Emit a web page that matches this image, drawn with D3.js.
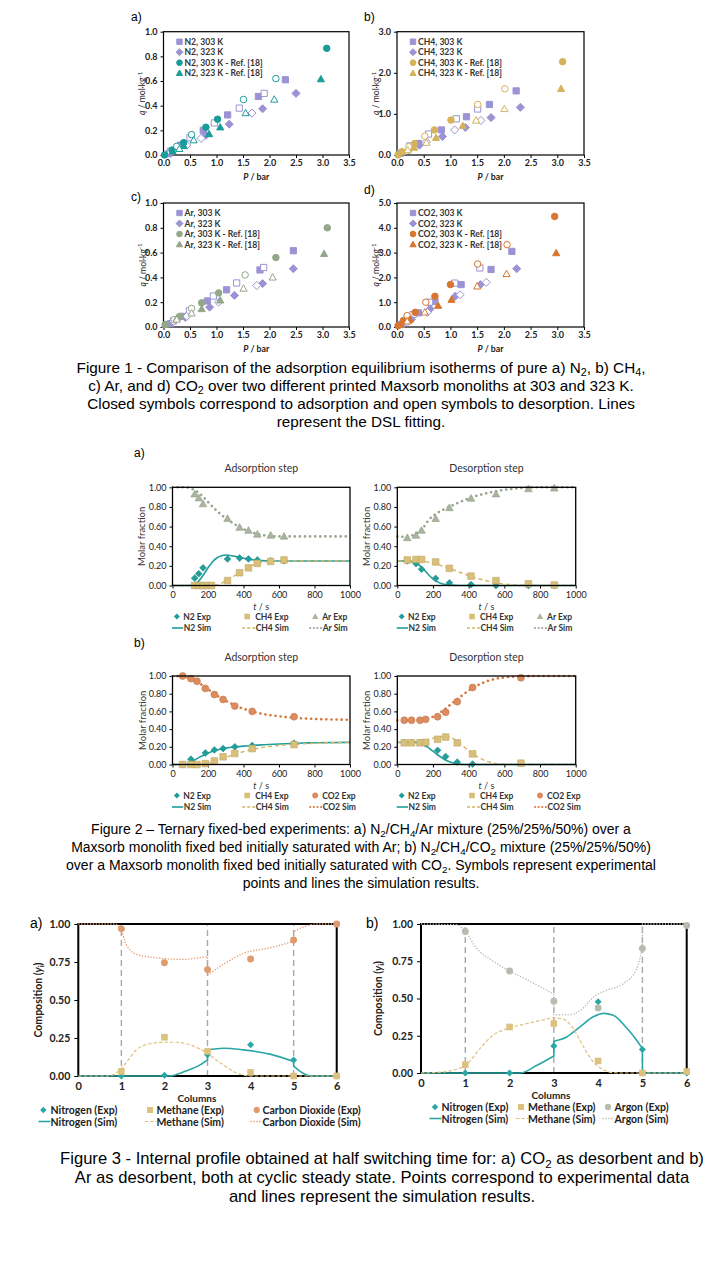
<!DOCTYPE html>
<html>
<head>
<meta charset="utf-8">
<title>Adsorption figures</title>
<script src="https://d3js.org/d3.v7.min.js"></script>
<style>
  body { margin: 0; background: #fff; }
  svg { display: block; }
</style>
</head>
<body>
<svg id="page" width="720" height="1280"></svg>
<script>
// ---------- Figure 1 data: [P (bar), q (mol/kg)] ----------
const P_TICKS = [0, 0.5, 1, 1.5, 2, 2.5, 3, 3.5];
const Q_TICKS_1 = [0, 0.2, 0.4, 0.6, 0.8, 1.0];
const Q_TICKS_3 = [0, 1, 2, 3];
const Q_TICKS_5 = [0, 1, 2, 3, 4, 5];

const N2_303_ads = [[0.1,0.01],[0.32,0.08],[0.75,0.2],[1.21,0.325],[1.79,0.475],[2.3,0.61]];
const N2_303_des = [[0.13,0.03],[0.28,0.06],[0.5,0.14],[0.96,0.26],[1.43,0.38],[1.9,0.5]];
const N2_323_ads = [[0.4,0.08],[0.8,0.16],[1.24,0.25],[1.87,0.375],[2.5,0.5]];
const N2_323_des = [[0.2,0.04],[0.44,0.08],[0.71,0.135],[1.67,0.34]];
const N2_r303_ads = [[0.02,0.0],[0.16,0.04],[0.38,0.1],[0.8,0.225],[1.02,0.29],[3.08,0.865]];
const N2_r303_des = [[0.25,0.07],[0.53,0.165],[1.51,0.45],[2.12,0.62]];
const N2_r323_ads = [[0.17,0.03],[0.38,0.075],[0.86,0.17],[1.07,0.225],[2.97,0.615]];
const N2_r323_des = [[0.3,0.05],[0.57,0.12],[1.55,0.34],[2.09,0.45]];

const CH4_303_ads = [[0.06,0.04],[0.4,0.28],[0.83,0.61],[1.3,0.93],[1.73,1.23],[2.23,1.56]];
const CH4_303_des = [[0.24,0.22],[0.59,0.51],[1.11,0.88],[1.51,1.12]];
const CH4_323_ads = [[0.42,0.24],[0.85,0.45],[1.28,0.67],[1.76,0.91],[2.31,1.16]];
const CH4_323_des = [[0.22,0.12],[0.55,0.32],[1.08,0.61],[1.57,0.84]];
const CH4_r303_ads = [[0.02,0.0],[0.09,0.08],[0.33,0.28],[0.7,0.61],[1.01,0.85],[3.1,2.27]];
const CH4_r303_des = [[0.22,0.2],[0.52,0.46],[1.51,1.23],[2.02,1.61]];
const CH4_r323_ads = [[0.1,0.08],[0.32,0.18],[0.73,0.42],[1.23,0.71],[3.07,1.61]];
const CH4_r323_des = [[0.2,0.12],[0.55,0.3],[1.48,0.84],[2.01,1.12]];

const Ar_303_ads = [[0.13,0.027],[0.38,0.086],[0.83,0.21],[1.19,0.3],[1.82,0.46],[2.45,0.615]];
const Ar_303_des = [[0.19,0.05],[0.49,0.13],[0.94,0.25],[1.38,0.355],[1.89,0.48]];
const Ar_323_ads = [[0.41,0.078],[0.87,0.16],[1.34,0.255],[1.87,0.35],[2.45,0.47]];
const Ar_323_des = [[0.19,0.046],[0.44,0.086],[1.04,0.2],[1.76,0.335]];
const Ar_r303_ads = [[0.03,0.02],[0.31,0.086],[0.72,0.195],[1.04,0.275],[2.12,0.56],[3.09,0.8]];
const Ar_r303_des = [[0.2,0.06],[0.53,0.15],[1.54,0.42]];
const Ar_r323_ads = [[0.03,0.02],[0.25,0.07],[0.72,0.145],[1.07,0.215],[3.03,0.59]];
const Ar_r323_des = [[0.25,0.06],[0.53,0.11],[1.51,0.31],[2.06,0.4]];

const CO2_303_ads = [[0.08,0.1],[0.4,0.57],[0.71,1.03],[1.2,1.71],[1.76,2.32],[2.15,3.05]];
const CO2_303_des = [[0.3,0.5],[0.61,1.0],[1.08,1.77],[1.55,2.38]];
const CO2_323_ads = [[0.27,0.3],[0.62,0.73],[1.09,1.24],[1.56,1.71],[2.24,2.35]];
const CO2_323_des = [[0.19,0.19],[0.57,0.59],[1.18,1.3],[1.67,1.8]];
const CO2_r303_ads = [[0.02,0.05],[0.12,0.26],[0.34,0.59],[0.71,1.24],[1.0,1.71],[2.95,4.46]];
const CO2_r303_des = [[0.19,0.46],[0.54,1.0],[1.51,2.54],[2.06,3.32]];
const CO2_r323_ads = [[0.07,0.1],[0.24,0.3],[0.77,0.86],[1.02,1.1],[2.98,2.98]];
const CO2_r323_des = [[0.19,0.23],[0.52,0.59],[1.5,1.64],[2.05,2.14]];

// ---------- Figure 2 data: [t (s), molar fraction] ----------
const T_TICKS = [0, 200, 400, 600, 800, 1000];
const FRAC_TICKS = [0, 0.2, 0.4, 0.6, 0.8, 1.0];

const a_ads_N2_exp = [[125,0.075],[148,0.12],[172,0.18],[310,0.27],[378,0.28],[428,0.27],[478,0.26],[553,0.25],[628,0.25]];
const a_ads_CH4_exp = [[125,0],[148,0],[172,0],[195,0],[220,0],[310,0.05],[378,0.13],[428,0.18],[478,0.225],[553,0.245],[628,0.26]];
const a_ads_Ar_exp = [[125,0.93],[148,0.89],[172,0.83],[310,0.68],[378,0.59],[428,0.56],[478,0.52],[553,0.51],[628,0.5]];
const a_ads_N2_sim = [[0,0],[100,0],[125,0.01],[150,0.05],[175,0.11],[200,0.18],[225,0.24],[250,0.28],[275,0.303],[300,0.31],[325,0.306],[350,0.297],[400,0.278],[450,0.262],[500,0.253],[550,0.25],[1000,0.25]];
const a_ads_CH4_sim = [[0,0],[220,0],[250,0.006],[300,0.045],[350,0.1],[400,0.16],[450,0.205],[500,0.235],[550,0.247],[600,0.25],[1000,0.25]];
const a_ads_Ar_sim = [[0,1],[75,1],[100,0.99],[125,0.97],[150,0.94],[175,0.9],[200,0.85],[250,0.76],[300,0.685],[350,0.625],[400,0.575],[450,0.54],[500,0.515],[550,0.505],[600,0.5],[1000,0.5]];

const a_des_N2_exp = [[56,0.25],[105,0.223],[136,0.165],[215,0.072],[292,0.027],[413,0.01],[553,0],[735,0],[880,0]];
const a_des_CH4_exp = [[56,0.26],[105,0.265],[136,0.265],[215,0.24],[292,0.175],[413,0.096],[553,0.05],[735,0.017],[880,0.005]];
const a_des_Ar_exp = [[56,0.485],[105,0.51],[136,0.56],[215,0.68],[292,0.79],[413,0.887],[553,0.93],[735,0.983],[880,0.99]];
const a_des_N2_sim = [[0,0.25],[50,0.25],[75,0.245],[100,0.232],[125,0.205],[150,0.16],[175,0.11],[200,0.068],[225,0.037],[250,0.018],[300,0.004],[350,0],[1000,0]];
const a_des_CH4_sim = [[0,0.25],[100,0.25],[150,0.245],[200,0.228],[250,0.2],[300,0.17],[350,0.135],[400,0.102],[450,0.072],[500,0.048],[550,0.028],[600,0.015],[700,0.003],[800,0],[1000,0]];
const a_des_Ar_sim = [[0,0.5],[50,0.495],[100,0.525],[150,0.6],[175,0.665],[230,0.745],[290,0.8],[345,0.845],[420,0.9],[490,0.935],[585,0.97],[680,0.99],[770,1],[1000,1]];

const b_ads_N2_exp = [[57,0],[104,0.06],[185,0.13],[236,0.165],[285,0.18],[351,0.2],[449,0.215],[685,0.24]];
const b_ads_CH4_exp = [[57,0],[104,0],[138,0],[185,0.01],[236,0.04],[285,0.087],[351,0.125],[449,0.18],[685,0.225]];
const b_ads_CO2_exp = [[57,1.0],[104,0.97],[138,0.94],[185,0.86],[236,0.79],[285,0.735],[351,0.66],[449,0.6],[685,0.54]];
const b_ads_N2_sim = [[0,0],[75,0],[100,0.02],[125,0.05],[150,0.08],[175,0.105],[200,0.13],[250,0.165],[300,0.185],[350,0.198],[400,0.208],[500,0.222],[600,0.232],[700,0.24],[800,0.245],[1000,0.25]];
const b_ads_CH4_sim = [[0,0],[150,0],[175,0.005],[200,0.015],[250,0.045],[300,0.08],[350,0.115],[400,0.145],[450,0.17],[500,0.19],[600,0.215],[700,0.23],[800,0.24],[1000,0.25]];
const b_ads_CO2_sim = [[0,1],[50,0.995],[100,0.97],[150,0.92],[200,0.85],[250,0.78],[300,0.72],[350,0.67],[400,0.63],[450,0.6],[500,0.575],[600,0.545],[700,0.525],[800,0.515],[1000,0.505]];

const b_des_N2_exp = [[39,0.25],[80,0.25],[127,0.25],[159,0.235],[226,0.16],[271,0.09],[336,0.027],[422,0.005]];
const b_des_CH4_exp = [[39,0.245],[80,0.245],[127,0.245],[159,0.25],[226,0.285],[271,0.31],[336,0.245],[422,0.12],[693,0.015]];
const b_des_CO2_exp = [[39,0.5],[80,0.5],[127,0.5],[159,0.51],[226,0.54],[271,0.59],[336,0.71],[422,0.87],[693,0.98]];
const b_des_N2_sim = [[0,0.25],[100,0.25],[125,0.24],[150,0.22],[175,0.19],[200,0.15],[225,0.11],[250,0.075],[275,0.045],[300,0.025],[325,0.01],[350,0.003],[400,0],[1000,0]];
const b_des_CH4_sim = [[0,0.25],[100,0.255],[150,0.27],[200,0.298],[250,0.318],[275,0.32],[300,0.305],[350,0.24],[400,0.155],[450,0.085],[500,0.038],[550,0.013],[600,0.003],[700,0],[1000,0]];
const b_des_CO2_sim = [[0,0.5],[100,0.5],[150,0.51],[200,0.54],[250,0.6],[300,0.68],[350,0.76],[400,0.835],[450,0.895],[500,0.94],[550,0.968],[600,0.984],[700,0.996],[800,1],[1000,1]];

// ---------- Figure 3 data: [column, composition] ----------
const COL_TICKS = [0, 1, 2, 3, 4, 5, 6];
const COMP_TICKS = [0, 0.25, 0.5, 0.75, 1];
const COLUMNS = [1, 2, 3, 4, 5, 6];

const f3a_N2_exp = [0, 0.005, 0.14, 0.205, 0.105, 0];
const f3a_CH4_exp = [0.03, 0.255, 0.162, 0.024, 0, 0];
const f3a_CO2_exp = [0.968, 0.745, 0.7, 0.77, 0.895, 1.0];
// a repeated column value marks a jump between two columns
const f3a_N2_sim = [[0,0],[2.1,0],[2.5,0.033],[2.83,0.073],[3,0.106],[3,0.172],[3.37,0.183],[3.83,0.172],[4.45,0.144],[5,0.095],[5,0.065],[5.22,0.018],[5.38,0],[6,0]];
const f3a_CH4_sim = [[0,0],[0.7,0],[0.85,0.015],[1.0,0.05],[1.2,0.12],[1.35,0.173],[1.66,0.212],[2.0,0.222],[2.28,0.222],[2.59,0.205],[2.8,0.18],[3.0,0.15],[3.2,0.105],[3.37,0.073],[3.6,0.03],[3.75,0.012],[4.0,0],[6,0]];
const f3a_CO2_sim = [[0,1],[0.85,1],[1.0,0.96],[1.08,0.885],[1.2,0.83],[1.35,0.8],[1.74,0.78],[2.44,0.767],[2.8,0.778],[3,0.785],[3,0.665],[3.37,0.735],[3.83,0.806],[4.45,0.843],[5,0.886],[5,0.95],[5.22,0.98],[5.53,1.0],[6,1]];

const f3b_N2_exp = [0, 0, 0.182, 0.478, 0.157, 0];
const f3b_CH4_exp = [0.056, 0.309, 0.332, 0.081, 0, 0.01];
const f3b_Ar_exp = [0.95, 0.685, 0.482, 0.437, 0.836, 0.99];
const f3b_N2_sim = [[0,0],[2.24,0],[2.61,0.05],[3,0.114],[3,0.213],[3.29,0.242],[3.59,0.31],[3.89,0.377],[4.12,0.4],[4.34,0.388],[4.65,0.3],[4.87,0.22],[5,0.164],[5,0],[6,0]];
const f3b_CH4_sim = [[0,0],[0.5,0.007],[0.8,0.025],[1.0,0.05],[1.33,0.164],[1.63,0.254],[2.0,0.303],[2.39,0.332],[2.84,0.361],[3.0,0.37],[3.22,0.36],[3.44,0.298],[3.67,0.175],[3.89,0.074],[4.12,0.022],[4.34,0.002],[4.5,0],[6,0]];
const f3b_Ar_sim = [[0,1],[0.8,0.995],[1.0,0.95],[1.25,0.84],[1.63,0.75],[2.0,0.685],[2.5,0.61],[3,0.527],[3,0.39],[3.3,0.39],[3.6,0.42],[3.9,0.51],[4.2,0.556],[4.57,0.6],[4.87,0.7],[5,0.836],[5,1.0],[6,1]];

// ---------- colours ----------
const PURPLE = '#9b93d4', TEAL = '#1a9c9a', GOLD = '#d6b35a', SAGE = '#93a78a', ORANGE = '#d8762f';
const F2_N2 = '#1f9f9c', F2_CH4 = '#d9bf78', F2_AR = '#a9b59f', F2_CO2 = '#de8b5e';
const F3_N2 = '#2aa7a5', F3_CH4 = '#ddc27f', F3_CO2 = '#e09a70', F3_AR = '#b6bcae';

const CHART_FONT = 'Lato, "Open Sans", sans-serif';
const CAP_FONT = '"Liberation Sans", Arial, sans-serif';

const svg = d3.select('#page');
svg.append('rect').attr('width', 720).attr('height', 1280).attr('fill', '#fff');

// marker outline centred on 0,0
function shapePath(shape, s) {
  if (shape === 'square') return `M${-s},${-s}H${s}V${s}H${-s}Z`;
  if (shape === 'diamond') { const d = s * 1.3; return `M0,${-d}L${d},0L0,${d}L${-d},0Z`; }
  if (shape === 'triangle') return `M0,${-s * 1.2}L${s * 1.15},${s * 0.85}L${-s * 1.15},${s * 0.85}Z`;
  return d3.symbol(d3.symbolCircle, Math.PI * s * s * 1.1)();
}

function drawMarkers(g, pts, x, y, shape, s, fill, stroke, sw) {
  g.append('g').selectAll('path').data(pts).join('path')
    .attr('transform', d => `translate(${x(d[0])},${y(d[1])})`)
    .attr('d', shapePath(shape, s))
    .attr('fill', fill).attr('stroke', stroke).attr('stroke-width', sw);
}

// text with _{sub}, ^{sup}, *italic*
function rich(t, str, fs) {
  const parts = str.split(/(_\{[^}]*\}|\^\{[^}]*\}|\*[^*]*\*)/).filter(p => p);
  let back = 0;
  parts.forEach(p => {
    const ts = t.append('tspan');
    if (p[0] === '_' && p[1] === '{') {
      ts.attr('dy', fs * 0.3 + back).attr('font-size', fs * 0.7).text(p.slice(2, -1)); back = -fs * 0.3;
    } else if (p[0] === '^' && p[1] === '{') {
      ts.attr('dy', -fs * 0.4 + back).attr('font-size', fs * 0.7).text(p.slice(2, -1)); back = fs * 0.4;
    } else if (p[0] === '*') {
      ts.attr('dy', back).attr('font-style', 'italic').text(p.slice(1, -1)); back = 0;
    } else {
      ts.attr('dy', back).text(p); back = 0;
    }
  });
  return t;
}

function label(g, x, y, str, o) {
  o = o || {};
  const t = g.append('text').attr('x', x).attr('y', y)
    .attr('font-family', o.family || CHART_FONT)
    .attr('font-size', o.size || 10)
    .attr('font-weight', o.weight || 'normal')
    .attr('fill', o.fill || '#000')
    .attr('text-anchor', o.anchor || 'start')
    .attr('dominant-baseline', 'central');
  if (o.rotate) t.attr('transform', `rotate(-90,${x},${y})`);
  return rich(t, str, o.size || 10);
}

function styleAxis(a, size, weight, fill) {
  a.select('.domain').remove();
  a.selectAll('line').attr('stroke', '#000');
  a.selectAll('text').attr('font-family', CHART_FONT).attr('font-size', size)
    .attr('font-weight', weight).attr('fill', fill);
}

// ---------- Figure 1 panels ----------
function isoPanel(p) {
  const x = d3.scaleLinear().domain([0, 3.5]).range([p.left, p.right]);
  const y = d3.scaleLinear().domain([0, p.yticks[p.yticks.length - 1]]).range([p.bottom, p.top]);
  const g = svg.append('g');
  styleAxis(g.append('g').attr('transform', `translate(0,${p.bottom})`)
    .call(d3.axisBottom(x).tickValues(P_TICKS).tickFormat(d3.format('.1f')).tickSize(3).tickPadding(2)), 9, 'bold', '#222');
  styleAxis(g.append('g').attr('transform', `translate(${p.left},0)`)
    .call(d3.axisLeft(y).tickValues(p.yticks).tickFormat(d3.format('.1f')).tickSize(3).tickPadding(3)), 9, 'bold', '#222');
  g.append('rect').attr('x', p.left).attr('y', p.top).attr('width', p.right - p.left)
    .attr('height', p.bottom - p.top).attr('fill', 'none').attr('stroke', '#000').attr('stroke-width', 1.2);

  p.series.forEach(s => drawMarkers(g, s.pts, x, y, s.shape, 3.1,
    s.open ? '#fff' : s.color, s.color, 1));

  p.legend.forEach((l, i) => {
    const ly = p.top + 10 + i * 10.5;
    g.append('path').attr('transform', `translate(${p.left + 16},${ly})`)
      .attr('d', shapePath(l.shape, 2.7)).attr('fill', l.color).attr('stroke', l.color);
    label(g, p.left + 21, ly, l.text, { size: 8.6, weight: 'bold', fill: '#333' });
  });

  label(g, p.tagX, p.tagY, p.tag, { family: CAP_FONT, size: 12 });
  label(g, (p.left + p.right) / 2, p.bottom + 21, '*P* / bar', { size: 8.8, weight: 'bold', anchor: 'middle', fill: '#222' });
  label(g, p.left - 21, (p.top + p.bottom) / 2, '*q* / mol·kg^{-1}', { size: 8.6, anchor: 'middle', rotate: true, fill: '#222' });
}

function isoSeries(gas, color, d) {
  return {
    series: [
      { pts: d[0], shape: 'square', color: PURPLE }, { pts: d[1], shape: 'square', color: PURPLE, open: true },
      { pts: d[2], shape: 'diamond', color: PURPLE }, { pts: d[3], shape: 'diamond', color: PURPLE, open: true },
      { pts: d[4], shape: 'circle', color: color }, { pts: d[5], shape: 'circle', color: color, open: true },
      { pts: d[6], shape: 'triangle', color: color }, { pts: d[7], shape: 'triangle', color: color, open: true }
    ],
    legend: [
      { shape: 'square', color: PURPLE, text: gas + ', 303 K' },
      { shape: 'diamond', color: PURPLE, text: gas + ', 323 K' },
      { shape: 'circle', color: color, text: gas + ', 303 K - Ref. [18]' },
      { shape: 'triangle', color: color, text: gas + ', 323 K - Ref. [18]' }
    ]
  };
}

isoPanel(Object.assign({ left: 163.5, right: 349, top: 31.7, bottom: 155, yticks: Q_TICKS_1, tag: 'a)', tagX: 131, tagY: 17 },
  isoSeries('N2', TEAL, [N2_303_ads, N2_303_des, N2_323_ads, N2_323_des, N2_r303_ads, N2_r303_des, N2_r323_ads, N2_r323_des])));
isoPanel(Object.assign({ left: 397, right: 584, top: 31.7, bottom: 155, yticks: Q_TICKS_3, tag: 'b)', tagX: 364, tagY: 17 },
  isoSeries('CH4', GOLD, [CH4_303_ads, CH4_303_des, CH4_323_ads, CH4_323_des, CH4_r303_ads, CH4_r303_des, CH4_r323_ads, CH4_r323_des])));
isoPanel(Object.assign({ left: 163.5, right: 349, top: 203, bottom: 327, yticks: Q_TICKS_1, tag: 'c)', tagX: 131, tagY: 197 },
  isoSeries('Ar', SAGE, [Ar_303_ads, Ar_303_des, Ar_323_ads, Ar_323_des, Ar_r303_ads, Ar_r303_des, Ar_r323_ads, Ar_r323_des])));
isoPanel(Object.assign({ left: 397, right: 584, top: 203, bottom: 327, yticks: Q_TICKS_5, tag: 'd)', tagX: 364, tagY: 190 },
  isoSeries('CO2', ORANGE, [CO2_303_ads, CO2_303_des, CO2_323_ads, CO2_323_des, CO2_r303_ads, CO2_r303_des, CO2_r323_ads, CO2_r323_des])));

function caption(lines, cx, y0, dy, size) {
  const g = svg.append('g');
  lines.forEach((l, i) => label(g, cx, y0 + i * dy, l, { family: CAP_FONT, size: size, anchor: 'middle' }));
}

caption([
  'Figure 1 - Comparison of the adsorption equilibrium isotherms of pure a) N_{2}, b) CH_{4},',
  'c) Ar, and d) CO_{2} over two different printed Maxsorb monoliths at 303 and 323 K.',
  'Closed symbols correspond to adsorption and open symbols to desorption. Lines',
  'represent the DSL fitting.'
], 361, 367, 18, 15.3);

// ---------- Figure 2 panels ----------
const SIM_STYLE = {
  solid: { width: 1.6, dash: null, cap: 'butt' },
  dashed: { width: 1.4, dash: '4,3', cap: 'butt' },
  dotted: { width: 2.6, dash: '0.1,5', cap: 'round' }
};

function fbPanel(p) {
  const x = d3.scaleLinear().domain([0, 1000]).range([p.left, p.right]);
  const y = d3.scaleLinear().domain([0, 1]).range([p.bottom, p.top]);
  const g = svg.append('g');
  styleAxis(g.append('g').attr('transform', `translate(0,${p.bottom})`)
    .call(d3.axisBottom(x).tickValues(T_TICKS).tickFormat(d3.format('d')).tickSize(3).tickPadding(3)), 9, 'normal', '#222');
  styleAxis(g.append('g').attr('transform', `translate(${p.left},0)`)
    .call(d3.axisLeft(y).tickValues(FRAC_TICKS).tickFormat(d3.format('.2f')).tickSize(3).tickPadding(3)), 9, 'normal', '#222');

  const line = d3.line().x(d => x(d[0])).y(d => y(d[1])).curve(d3.curveMonotoneX);
  p.sims.forEach(s => {
    const st = SIM_STYLE[s.style];
    g.append('path').attr('d', line(s.pts)).attr('fill', 'none').attr('stroke', s.color)
      .attr('stroke-width', st.width).attr('stroke-dasharray', st.dash).attr('stroke-linecap', st.cap);
  });
  p.exps.forEach(s => drawMarkers(g, s.pts, x, y, s.shape, s.shape === 'diamond' ? 2.6 : 3.3, s.color, d3.color(s.color).darker(0.4), 0.6));

  g.append('rect').attr('x', p.left).attr('y', p.top).attr('width', p.right - p.left)
    .attr('height', p.bottom - p.top).attr('fill', 'none').attr('stroke', '#000').attr('stroke-width', 1.3);

  label(g, (p.left + p.right) / 2, p.top - 19, p.title, { size: 10.5, anchor: 'middle', fill: '#333' });
  label(g, p.left - 31, (p.top + p.bottom) / 2, 'Molar fraction', { size: 9.5, anchor: 'middle', rotate: true, fill: '#333' });
  label(g, (p.left + p.right) / 2, p.bottom + 20, '*t* / s', { size: 9, anchor: 'middle', fill: '#333' });

  // legend below the panel
  const r1 = p.bottom + 31, r2 = p.bottom + 42.5;
  const mx = [4.4, 74.7, 142.7], tx = [10.7, 82.7, 149.7];
  p.exps.forEach((s, i) => {
    g.append('path').attr('transform', `translate(${p.left + mx[i]},${r1})`)
      .attr('d', shapePath(s.shape, s.shape === 'diamond' ? 2.3 : 2.8)).attr('fill', s.color);
    label(g, p.left + tx[i], r1, s.name + ' Exp', { size: 8.5, weight: 'bold', fill: '#333' });
  });
  p.sims.forEach((s, i) => {
    const st = SIM_STYLE[s.style];
    g.append('line').attr('x1', p.left + mx[i] - 5).attr('x2', p.left + tx[i]).attr('y1', r2).attr('y2', r2)
      .attr('stroke', s.color).attr('stroke-width', s.style === 'dotted' ? 2 : st.width)
      .attr('stroke-dasharray', s.style === 'dotted' ? '0.1,3.5' : (s.style === 'dashed' ? '3,2' : null))
      .attr('stroke-linecap', st.cap);
    label(g, p.left + tx[i] + 0.5, r2, s.name + ' Sim', { size: 8.5, weight: 'bold', fill: '#333' });
  });
}

function fbSeries(third, thirdColor, exp, sim) {
  return {
    exps: [
      { name: 'N2', pts: exp[0], shape: 'diamond', color: F2_N2 },
      { name: 'CH4', pts: exp[1], shape: 'square', color: F2_CH4 },
      { name: third, pts: exp[2], shape: third === 'Ar' ? 'triangle' : 'circle', color: thirdColor }
    ],
    sims: [
      { name: 'N2', pts: sim[0], style: 'solid', color: F2_N2 },
      { name: 'CH4', pts: sim[1], style: 'dashed', color: '#d4b565' },
      { name: third, pts: sim[2], style: 'dotted', color: third === 'Ar' ? '#9aa58f' : '#d9773a' }
    ]
  };
}

fbPanel(Object.assign({ left: 172.5, right: 350, top: 487.3, bottom: 585.5, title: 'Adsorption step' },
  fbSeries('Ar', F2_AR, [a_ads_N2_exp, a_ads_CH4_exp, a_ads_Ar_exp], [a_ads_N2_sim, a_ads_CH4_sim, a_ads_Ar_sim])));
fbPanel(Object.assign({ left: 397.3, right: 575.7, top: 487.3, bottom: 585.5, title: 'Desorption step' },
  fbSeries('Ar', F2_AR, [a_des_N2_exp, a_des_CH4_exp, a_des_Ar_exp], [a_des_N2_sim, a_des_CH4_sim, a_des_Ar_sim])));
fbPanel(Object.assign({ left: 172.5, right: 350, top: 676, bottom: 764.5, title: 'Adsorption step' },
  fbSeries('CO2', F2_CO2, [b_ads_N2_exp, b_ads_CH4_exp, b_ads_CO2_exp], [b_ads_N2_sim, b_ads_CH4_sim, b_ads_CO2_sim])));
fbPanel(Object.assign({ left: 397.3, right: 575.7, top: 676, bottom: 764.5, title: 'Desorption step' },
  fbSeries('CO2', F2_CO2, [b_des_N2_exp, b_des_CH4_exp, b_des_CO2_exp], [b_des_N2_sim, b_des_CH4_sim, b_des_CO2_sim])));

label(svg, 134, 453, 'a)', { family: CAP_FONT, size: 12 });
label(svg, 134, 643, 'b)', { family: CAP_FONT, size: 12 });

caption([
  'Figure 2 – Ternary fixed-bed experiments: a) N_{2}/CH_{4}/Ar mixture (25%/25%/50%) over a',
  'Maxsorb monolith fixed bed initially saturated with Ar; b) N_{2}/CH_{4}/CO_{2} mixture (25%/25%/50%)',
  'over a Maxsorb monolith fixed bed initially saturated with CO_{2}. Symbols represent experimental',
  'points and lines the simulation results.'
], 361, 829, 18, 14);

// ---------- Figure 3 panels ----------
const F3_STYLE = {
  solid: { width: 1.6, dash: null },
  dashed: { width: 1.2, dash: '3.5,2' },
  dotted: { width: 1.3, dash: '1.3,1.6' }
};

function colPanel(p) {
  const x = d3.scaleLinear().domain([0, 6]).range([p.left, p.right]);
  const y = d3.scaleLinear().domain([0, 1]).range([p.bottom, p.top]);
  const g = svg.append('g');
  styleAxis(g.append('g').attr('transform', `translate(0,${p.bottom})`)
    .call(d3.axisBottom(x).tickValues(COL_TICKS).tickFormat(d3.format('d')).tickSize(0).tickPadding(6)), 11, 'bold', '#222');
  styleAxis(g.append('g').attr('transform', `translate(${p.left},0)`)
    .call(d3.axisLeft(y).tickValues(COMP_TICKS).tickFormat(d3.format('.2f')).tickSize(4).tickPadding(4)), 10.5, 'bold', '#222');

  g.append('g').selectAll('line').data([1, 3, 5]).join('line')
    .attr('x1', d => x(d)).attr('x2', d => x(d)).attr('y1', p.bottom).attr('y2', p.top)
    .attr('stroke', '#a8a8a8').attr('stroke-width', 1.4).attr('stroke-dasharray', '6,4');

  g.append('rect').attr('x', p.left).attr('y', p.top).attr('width', p.right - p.left)
    .attr('height', p.bottom - p.top).attr('fill', 'none').attr('stroke', '#000').attr('stroke-width', 2);

  // smooth pieces between columns, joined by straight jumps where a column value repeats
  const line = d3.line().x(d => x(d[0])).y(d => y(d[1])).curve(d3.curveMonotoneX);
  const profile = pts => {
    const segs = [[pts[0]]];
    for (let i = 1; i < pts.length; i++) {
      if (pts[i][0] === pts[i - 1][0]) segs.push([pts[i]]);
      else segs[segs.length - 1].push(pts[i]);
    }
    return segs.map((s, i) => {
      const d = s.length > 1 ? line(s) : `M${x(s[0][0])},${y(s[0][1])}`;
      return i ? 'L' + d.slice(1) : d;
    }).join('');
  };
  p.sims.forEach(s => {
    const st = F3_STYLE[s.style];
    g.append('path').attr('d', profile(s.pts)).attr('fill', 'none').attr('stroke', s.color)
      .attr('stroke-width', st.width).attr('stroke-dasharray', st.dash);
  });
  p.exps.forEach(s => drawMarkers(g, d3.zip(COLUMNS, s.vals), x, y, s.shape,
    s.shape === 'diamond' ? 2.7 : 3.3, s.color, 'none', 0));

  label(g, p.tagX, p.top - 1, p.tag, { family: CAP_FONT, size: 14 });
  label(g, p.labelX, (p.top + p.bottom) / 2, 'Composition (*y*_{i})', { size: 10.5, weight: 'bold', anchor: 'middle', rotate: true, fill: '#222' });
  label(g, p.columnsX, p.bottom + 21.5, 'Columns', { size: 10, weight: 'bold', anchor: 'middle', fill: '#222' });

  const r1 = p.bottom + 34, r2 = p.bottom + 45.5;
  p.exps.forEach((s, i) => {
    g.append('path').attr('transform', `translate(${p.legM[i]},${r1})`)
      .attr('d', shapePath(s.shape, s.shape === 'diamond' ? 2.5 : 3)).attr('fill', s.color);
    label(g, p.legT[i], r1, s.name + ' (Exp)', { size: 10.5, weight: 'bold', fill: '#222' });
  });
  p.sims.forEach((s, i) => {
    const st = F3_STYLE[s.style];
    g.append('line').attr('x1', p.legT[i] - 12).attr('x2', p.legT[i]).attr('y1', r2).attr('y2', r2)
      .attr('stroke', s.color).attr('stroke-width', st.width).attr('stroke-dasharray', st.dash);
    label(g, p.legT[i], r2, s.name + ' (Sim)', { size: 10.5, weight: 'bold', fill: '#222' });
  });
}

colPanel({
  left: 78.3, right: 336.7, top: 924, bottom: 1076, tag: 'a)', tagX: 30, labelX: 38, columnsX: 197,
  legM: [43.3, 150, 256.7], legT: [50.5, 156.5, 262.5],
  exps: [
    { name: 'Nitrogen', vals: f3a_N2_exp, shape: 'diamond', color: F3_N2 },
    { name: 'Methane', vals: f3a_CH4_exp, shape: 'square', color: F3_CH4 },
    { name: 'Carbon Dioxide', vals: f3a_CO2_exp, shape: 'circle', color: F3_CO2 }
  ],
  sims: [
    { name: 'Nitrogen', pts: f3a_N2_sim, style: 'solid', color: F3_N2 },
    { name: 'Methane', pts: f3a_CH4_sim, style: 'dashed', color: F3_CH4 },
    { name: 'Carbon Dioxide', pts: f3a_CO2_sim, style: 'dotted', color: F3_CO2 }
  ]
});

colPanel({
  left: 421, right: 686.7, top: 924, bottom: 1073, tag: 'b)', tagX: 366, labelX: 378, columnsX: 551,
  legM: [435, 521, 608], legT: [441.5, 528, 614.5],
  exps: [
    { name: 'Nitrogen', vals: f3b_N2_exp, shape: 'diamond', color: F3_N2 },
    { name: 'Methane', vals: f3b_CH4_exp, shape: 'square', color: F3_CH4 },
    { name: 'Argon', vals: f3b_Ar_exp, shape: 'circle', color: F3_AR }
  ],
  sims: [
    { name: 'Nitrogen', pts: f3b_N2_sim, style: 'solid', color: F3_N2 },
    { name: 'Methane', pts: f3b_CH4_sim, style: 'dashed', color: F3_CH4 },
    { name: 'Argon', pts: f3b_Ar_sim, style: 'dotted', color: F3_AR }
  ]
});

caption([
  'Figure 3 - Internal profile obtained at half switching time for: a) CO_{2} as desorbent and b)',
  'Ar as desorbent, both at cyclic steady state. Points correspond to experimental data',
  'and lines represent the simulation results.'
], 382, 1158, 19, 16.6);
</script>
</body>
</html>
